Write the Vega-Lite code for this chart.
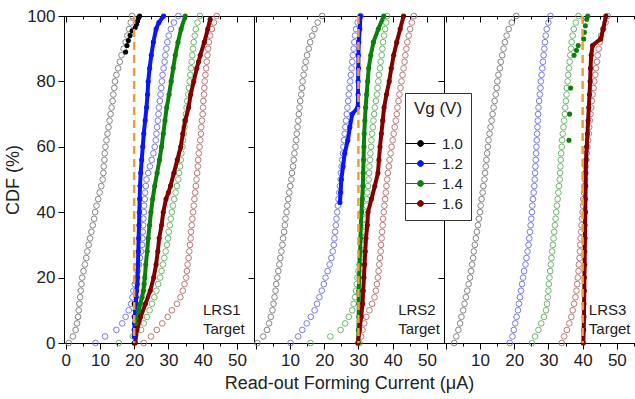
{
"$schema":"https://vega.github.io/schema/vega-lite/v6.json",
"autosize":{"type":"pad"},
"padding":{"left":4,"top":6,"right":0,"bottom":0},
"spacing":0,
"bounds":"flush",
"config":{
 "font":"Liberation Sans",
 "view":{"stroke":"black","strokeWidth":1},
 "axis":{"labelFont":"Liberation Sans","labelFontSize":17,"labelColor":"#222","titleFont":"Liberation Sans","titleFontSize":18,"titleFontWeight":"normal","titleColor":"#222","domainColor":"black","tickColor":"black","grid":false,"labelOverlap":false,"labelBound":false,"labelFlush":false},
 "legend":{"strokeColor":"#333","fillColor":"white","padding":8,"labelFontSize":15,"labelFont":"Liberation Sans","titleFont":"Liberation Sans","titleFontSize":17,"titleFontWeight":"normal","titleColor":"#222","labelColor":"#222","labelOffset":14,"rowPadding":4,"symbolSize":144,"titleAnchor":"middle","titlePadding":18}
},
"datasets":{
"h1":[
{"s":"ko","x":0.9,"y":0},{"s":"ko","x":2.1,"y":2},{"s":"ko","x":2.9,"y":4},{"s":"ko","x":3.3,"y":6},{"s":"ko","x":3.6,"y":8},{"s":"ko","x":3.8,"y":10},{"s":"ko","x":4.0,"y":12},{"s":"ko","x":4.2,"y":14},{"s":"ko","x":4.4,"y":16},{"s":"ko","x":4.6,"y":18},{"s":"ko","x":4.8,"y":20},{"s":"ko","x":5.2,"y":22},{"s":"ko","x":5.6,"y":24},{"s":"ko","x":6.0,"y":26},{"s":"ko","x":6.3,"y":28},{"s":"ko","x":6.7,"y":30},{"s":"ko","x":7.1,"y":32},{"s":"ko","x":7.5,"y":34},{"s":"ko","x":7.9,"y":36},{"s":"ko","x":8.3,"y":38},{"s":"ko","x":8.6,"y":40},{"s":"ko","x":9.0,"y":42},{"s":"ko","x":9.5,"y":44},{"s":"ko","x":9.9,"y":46},{"s":"ko","x":10.4,"y":48},{"s":"ko","x":10.8,"y":50},{"s":"ko","x":11.0,"y":52},{"s":"ko","x":11.1,"y":54},{"s":"ko","x":11.3,"y":56},{"s":"ko","x":11.4,"y":58},{"s":"ko","x":11.6,"y":60},{"s":"ko","x":11.9,"y":62},{"s":"ko","x":12.2,"y":64},{"s":"ko","x":12.5,"y":66},{"s":"ko","x":12.8,"y":68},{"s":"ko","x":13.1,"y":70},{"s":"ko","x":13.4,"y":72},{"s":"ko","x":13.7,"y":74},{"s":"ko","x":13.9,"y":76},{"s":"ko","x":14.2,"y":78},{"s":"ko","x":14.4,"y":80},{"s":"ko","x":14.8,"y":82},{"s":"ko","x":15.3,"y":84},{"s":"ko","x":15.8,"y":86},{"s":"ko","x":16.3,"y":88},{"s":"ko","x":16.9,"y":90},{"s":"ko","x":17.5,"y":92},{"s":"ko","x":18.0,"y":94},{"s":"ko","x":18.5,"y":96},{"s":"ko","x":19.0,"y":98},{"s":"ko","x":19.4,"y":100},
{"s":"bo","x":8.7,"y":0},{"s":"bo","x":11.5,"y":2},{"s":"bo","x":14.8,"y":4},{"s":"bo","x":16.5,"y":6},{"s":"bo","x":17.5,"y":8},{"s":"bo","x":18.4,"y":10},{"s":"bo","x":19.1,"y":12},{"s":"bo","x":19.5,"y":14},{"s":"bo","x":19.8,"y":16},{"s":"bo","x":20.2,"y":18},{"s":"bo","x":20.6,"y":20},{"s":"bo","x":21.0,"y":22},{"s":"bo","x":21.4,"y":24},{"s":"bo","x":21.7,"y":26},{"s":"bo","x":22.0,"y":28},{"s":"bo","x":22.3,"y":30},{"s":"bo","x":22.4,"y":32},{"s":"bo","x":22.5,"y":34},{"s":"bo","x":22.6,"y":36},{"s":"bo","x":22.7,"y":38},{"s":"bo","x":22.8,"y":40},{"s":"bo","x":22.9,"y":42},{"s":"bo","x":23.1,"y":44},{"s":"bo","x":23.2,"y":46},{"s":"bo","x":23.4,"y":48},{"s":"bo","x":23.6,"y":50},{"s":"bo","x":24.1,"y":52},{"s":"bo","x":24.6,"y":54},{"s":"bo","x":25.1,"y":56},{"s":"bo","x":25.6,"y":58},{"s":"bo","x":26.0,"y":60},{"s":"bo","x":26.3,"y":62},{"s":"bo","x":26.5,"y":64},{"s":"bo","x":26.7,"y":66},{"s":"bo","x":26.9,"y":68},{"s":"bo","x":27.1,"y":70},{"s":"bo","x":27.2,"y":72},{"s":"bo","x":27.5,"y":74},{"s":"bo","x":27.7,"y":76},{"s":"bo","x":27.9,"y":78},{"s":"bo","x":28.1,"y":80},{"s":"bo","x":28.3,"y":82},{"s":"bo","x":28.6,"y":84},{"s":"bo","x":28.9,"y":86},{"s":"bo","x":29.1,"y":88},{"s":"bo","x":29.4,"y":90},{"s":"bo","x":29.7,"y":92},{"s":"bo","x":30.1,"y":94},{"s":"bo","x":30.7,"y":96},{"s":"bo","x":31.6,"y":98},{"s":"bo","x":32.9,"y":100},
{"s":"go","x":15.5,"y":0},{"s":"go","x":19.6,"y":2},{"s":"go","x":22.0,"y":4},{"s":"go","x":22.8,"y":6},{"s":"go","x":23.7,"y":8},{"s":"go","x":24.5,"y":10},{"s":"go","x":25.2,"y":12},{"s":"go","x":25.9,"y":14},{"s":"go","x":26.5,"y":16},{"s":"go","x":27.0,"y":18},{"s":"go","x":27.6,"y":20},{"s":"go","x":28.0,"y":22},{"s":"go","x":28.4,"y":24},{"s":"go","x":28.8,"y":26},{"s":"go","x":29.2,"y":28},{"s":"go","x":29.6,"y":30},{"s":"go","x":29.9,"y":32},{"s":"go","x":30.1,"y":34},{"s":"go","x":30.4,"y":36},{"s":"go","x":30.7,"y":38},{"s":"go","x":31.0,"y":40},{"s":"go","x":31.3,"y":42},{"s":"go","x":31.7,"y":44},{"s":"go","x":32.1,"y":46},{"s":"go","x":32.5,"y":48},{"s":"go","x":32.9,"y":50},{"s":"go","x":33.1,"y":52},{"s":"go","x":33.4,"y":54},{"s":"go","x":33.6,"y":56},{"s":"go","x":33.8,"y":58},{"s":"go","x":34.1,"y":60},{"s":"go","x":34.3,"y":62},{"s":"go","x":34.5,"y":64},{"s":"go","x":34.7,"y":66},{"s":"go","x":34.9,"y":68},{"s":"go","x":35.1,"y":70},{"s":"go","x":35.3,"y":72},{"s":"go","x":35.5,"y":74},{"s":"go","x":35.8,"y":76},{"s":"go","x":36.0,"y":78},{"s":"go","x":36.2,"y":80},{"s":"go","x":36.4,"y":82},{"s":"go","x":36.6,"y":84},{"s":"go","x":36.8,"y":86},{"s":"go","x":37.0,"y":88},{"s":"go","x":37.2,"y":90},{"s":"go","x":37.4,"y":92},{"s":"go","x":37.7,"y":94},{"s":"go","x":38.0,"y":96},{"s":"go","x":38.5,"y":98},{"s":"go","x":39.2,"y":100},
{"s":"ro","x":22.8,"y":0},{"s":"ro","x":24.9,"y":2},{"s":"ro","x":26.6,"y":4},{"s":"ro","x":28.2,"y":6},{"s":"ro","x":29.8,"y":8},{"s":"ro","x":31.0,"y":10},{"s":"ro","x":32.5,"y":12},{"s":"ro","x":33.5,"y":14},{"s":"ro","x":34.2,"y":16},{"s":"ro","x":34.7,"y":18},{"s":"ro","x":35.2,"y":20},{"s":"ro","x":35.4,"y":22},{"s":"ro","x":35.6,"y":24},{"s":"ro","x":35.9,"y":26},{"s":"ro","x":36.1,"y":28},{"s":"ro","x":36.3,"y":30},{"s":"ro","x":36.5,"y":32},{"s":"ro","x":36.6,"y":34},{"s":"ro","x":36.8,"y":36},{"s":"ro","x":37.0,"y":38},{"s":"ro","x":37.2,"y":40},{"s":"ro","x":37.4,"y":42},{"s":"ro","x":37.6,"y":44},{"s":"ro","x":37.8,"y":46},{"s":"ro","x":38.0,"y":48},{"s":"ro","x":38.2,"y":50},{"s":"ro","x":38.4,"y":52},{"s":"ro","x":38.6,"y":54},{"s":"ro","x":38.7,"y":56},{"s":"ro","x":38.9,"y":58},{"s":"ro","x":39.1,"y":60},{"s":"ro","x":39.3,"y":62},{"s":"ro","x":39.5,"y":64},{"s":"ro","x":39.6,"y":66},{"s":"ro","x":39.8,"y":68},{"s":"ro","x":40.0,"y":70},{"s":"ro","x":40.1,"y":72},{"s":"ro","x":40.2,"y":74},{"s":"ro","x":40.4,"y":76},{"s":"ro","x":40.5,"y":78},{"s":"ro","x":40.6,"y":80},{"s":"ro","x":40.8,"y":82},{"s":"ro","x":41.0,"y":84},{"s":"ro","x":41.2,"y":86},{"s":"ro","x":41.4,"y":88},{"s":"ro","x":41.6,"y":90},{"s":"ro","x":41.8,"y":92},{"s":"ro","x":42.2,"y":94},{"s":"ro","x":42.7,"y":96},{"s":"ro","x":43.3,"y":98},{"s":"ro","x":44.1,"y":100}
],
"h2":[
{"s":"ko","x":0.5,"y":0},{"s":"ko","x":2.2,"y":2},{"s":"ko","x":3.3,"y":4},{"s":"ko","x":3.9,"y":6},{"s":"ko","x":4.4,"y":8},{"s":"ko","x":4.9,"y":10},{"s":"ko","x":5.2,"y":12},{"s":"ko","x":5.5,"y":14},{"s":"ko","x":5.8,"y":16},{"s":"ko","x":6.0,"y":18},{"s":"ko","x":6.3,"y":20},{"s":"ko","x":6.6,"y":22},{"s":"ko","x":6.9,"y":24},{"s":"ko","x":7.2,"y":26},{"s":"ko","x":7.5,"y":28},{"s":"ko","x":7.8,"y":30},{"s":"ko","x":8.0,"y":32},{"s":"ko","x":8.3,"y":34},{"s":"ko","x":8.5,"y":36},{"s":"ko","x":8.7,"y":38},{"s":"ko","x":9.0,"y":40},{"s":"ko","x":9.2,"y":42},{"s":"ko","x":9.5,"y":44},{"s":"ko","x":9.8,"y":46},{"s":"ko","x":10.1,"y":48},{"s":"ko","x":10.4,"y":50},{"s":"ko","x":10.6,"y":52},{"s":"ko","x":10.9,"y":54},{"s":"ko","x":11.1,"y":56},{"s":"ko","x":11.3,"y":58},{"s":"ko","x":11.6,"y":60},{"s":"ko","x":11.8,"y":62},{"s":"ko","x":12.0,"y":64},{"s":"ko","x":12.2,"y":66},{"s":"ko","x":12.4,"y":68},{"s":"ko","x":12.6,"y":70},{"s":"ko","x":12.8,"y":72},{"s":"ko","x":13.0,"y":74},{"s":"ko","x":13.3,"y":76},{"s":"ko","x":13.5,"y":78},{"s":"ko","x":13.7,"y":80},{"s":"ko","x":14.0,"y":82},{"s":"ko","x":14.3,"y":84},{"s":"ko","x":14.6,"y":86},{"s":"ko","x":15.0,"y":88},{"s":"ko","x":15.5,"y":90},{"s":"ko","x":15.9,"y":92},{"s":"ko","x":16.5,"y":94},{"s":"ko","x":17.2,"y":96},{"s":"ko","x":18.1,"y":98},{"s":"ko","x":19.4,"y":100},
{"s":"bo","x":10.2,"y":0},{"s":"bo","x":12.4,"y":2},{"s":"bo","x":13.6,"y":4},{"s":"bo","x":14.9,"y":6},{"s":"bo","x":16.1,"y":8},{"s":"bo","x":17.2,"y":10},{"s":"bo","x":17.9,"y":12},{"s":"bo","x":18.6,"y":14},{"s":"bo","x":19.3,"y":16},{"s":"bo","x":19.9,"y":18},{"s":"bo","x":20.4,"y":20},{"s":"bo","x":21.0,"y":22},{"s":"bo","x":21.6,"y":24},{"s":"bo","x":22.1,"y":26},{"s":"bo","x":22.5,"y":28},{"s":"bo","x":22.8,"y":30},{"s":"bo","x":23.0,"y":32},{"s":"bo","x":23.2,"y":34},{"s":"bo","x":23.4,"y":36},{"s":"bo","x":23.6,"y":38},{"s":"bo","x":23.8,"y":40},{"s":"bo","x":24.0,"y":42},{"s":"bo","x":24.2,"y":44},{"s":"bo","x":24.4,"y":46},{"s":"bo","x":24.6,"y":48},{"s":"bo","x":24.8,"y":50},{"s":"bo","x":24.9,"y":52},{"s":"bo","x":25.1,"y":54},{"s":"bo","x":25.3,"y":56},{"s":"bo","x":25.5,"y":58},{"s":"bo","x":25.6,"y":60},{"s":"bo","x":25.8,"y":62},{"s":"bo","x":26.0,"y":64},{"s":"bo","x":26.2,"y":66},{"s":"bo","x":26.4,"y":68},{"s":"bo","x":26.6,"y":70},{"s":"bo","x":26.8,"y":72},{"s":"bo","x":27.0,"y":74},{"s":"bo","x":27.2,"y":76},{"s":"bo","x":27.4,"y":78},{"s":"bo","x":27.6,"y":80},{"s":"bo","x":27.8,"y":82},{"s":"bo","x":28.0,"y":84},{"s":"bo","x":28.2,"y":86},{"s":"bo","x":28.4,"y":88},{"s":"bo","x":28.6,"y":90},{"s":"bo","x":28.8,"y":92},{"s":"bo","x":29.0,"y":94},{"s":"bo","x":29.3,"y":96},{"s":"bo","x":29.8,"y":98},{"s":"bo","x":30.6,"y":100},
{"s":"go","x":16.0,"y":0},{"s":"go","x":21.8,"y":2},{"s":"go","x":24.8,"y":4},{"s":"go","x":26.1,"y":6},{"s":"go","x":27.2,"y":8},{"s":"go","x":28.2,"y":10},{"s":"go","x":28.6,"y":12},{"s":"go","x":29.0,"y":14},{"s":"go","x":29.3,"y":16},{"s":"go","x":29.5,"y":18},{"s":"go","x":29.7,"y":20},{"s":"go","x":30.0,"y":22},{"s":"go","x":30.3,"y":24},{"s":"go","x":30.6,"y":26},{"s":"go","x":30.9,"y":28},{"s":"go","x":31.1,"y":30},{"s":"go","x":31.3,"y":32},{"s":"go","x":31.5,"y":34},{"s":"go","x":31.7,"y":36},{"s":"go","x":31.9,"y":38},{"s":"go","x":32.1,"y":40},{"s":"go","x":32.3,"y":42},{"s":"go","x":32.4,"y":44},{"s":"go","x":32.6,"y":46},{"s":"go","x":32.8,"y":48},{"s":"go","x":33.0,"y":50},{"s":"go","x":33.1,"y":52},{"s":"go","x":33.2,"y":54},{"s":"go","x":33.4,"y":56},{"s":"go","x":33.5,"y":58},{"s":"go","x":33.7,"y":60},{"s":"go","x":33.8,"y":62},{"s":"go","x":34.0,"y":64},{"s":"go","x":34.2,"y":66},{"s":"go","x":34.4,"y":68},{"s":"go","x":34.6,"y":70},{"s":"go","x":34.8,"y":72},{"s":"go","x":35.1,"y":74},{"s":"go","x":35.4,"y":76},{"s":"go","x":35.6,"y":78},{"s":"go","x":35.8,"y":80},{"s":"go","x":36.0,"y":82},{"s":"go","x":36.3,"y":84},{"s":"go","x":36.5,"y":86},{"s":"go","x":36.8,"y":88},{"s":"go","x":37.0,"y":90},{"s":"go","x":37.2,"y":92},{"s":"go","x":37.5,"y":94},{"s":"go","x":37.8,"y":96},{"s":"go","x":38.1,"y":98},{"s":"go","x":38.4,"y":100},
{"s":"ro","x":30.3,"y":0},{"s":"ro","x":30.8,"y":2},{"s":"ro","x":31.2,"y":4},{"s":"ro","x":31.7,"y":6},{"s":"ro","x":32.3,"y":8},{"s":"ro","x":33.2,"y":10},{"s":"ro","x":34.0,"y":12},{"s":"ro","x":34.7,"y":14},{"s":"ro","x":35.1,"y":16},{"s":"ro","x":35.4,"y":18},{"s":"ro","x":35.7,"y":20},{"s":"ro","x":35.9,"y":22},{"s":"ro","x":36.1,"y":24},{"s":"ro","x":36.3,"y":26},{"s":"ro","x":36.5,"y":28},{"s":"ro","x":36.6,"y":30},{"s":"ro","x":36.8,"y":32},{"s":"ro","x":36.9,"y":34},{"s":"ro","x":37.1,"y":36},{"s":"ro","x":37.2,"y":38},{"s":"ro","x":37.4,"y":40},{"s":"ro","x":37.6,"y":42},{"s":"ro","x":37.8,"y":44},{"s":"ro","x":38.0,"y":46},{"s":"ro","x":38.2,"y":48},{"s":"ro","x":38.4,"y":50},{"s":"ro","x":38.6,"y":52},{"s":"ro","x":38.9,"y":54},{"s":"ro","x":39.1,"y":56},{"s":"ro","x":39.4,"y":58},{"s":"ro","x":39.7,"y":60},{"s":"ro","x":40.0,"y":62},{"s":"ro","x":40.3,"y":64},{"s":"ro","x":40.6,"y":66},{"s":"ro","x":40.9,"y":68},{"s":"ro","x":41.2,"y":70},{"s":"ro","x":41.4,"y":72},{"s":"ro","x":41.7,"y":74},{"s":"ro","x":42.0,"y":76},{"s":"ro","x":42.3,"y":78},{"s":"ro","x":42.6,"y":80},{"s":"ro","x":42.9,"y":82},{"s":"ro","x":43.2,"y":84},{"s":"ro","x":43.5,"y":86},{"s":"ro","x":43.7,"y":88},{"s":"ro","x":44.0,"y":90},{"s":"ro","x":44.3,"y":92},{"s":"ro","x":44.7,"y":94},{"s":"ro","x":45.1,"y":96},{"s":"ro","x":45.6,"y":98},{"s":"ro","x":46.2,"y":100}
],
"h3":[
{"s":"ko","x":2.5,"y":0},{"s":"ko","x":3.1,"y":2},{"s":"ko","x":3.7,"y":4},{"s":"ko","x":4.2,"y":6},{"s":"ko","x":4.6,"y":8},{"s":"ko","x":5.1,"y":10},{"s":"ko","x":5.5,"y":12},{"s":"ko","x":5.9,"y":14},{"s":"ko","x":6.3,"y":16},{"s":"ko","x":6.7,"y":18},{"s":"ko","x":7.1,"y":20},{"s":"ko","x":7.4,"y":22},{"s":"ko","x":7.7,"y":24},{"s":"ko","x":8.0,"y":26},{"s":"ko","x":8.2,"y":28},{"s":"ko","x":8.5,"y":30},{"s":"ko","x":8.8,"y":32},{"s":"ko","x":9.1,"y":34},{"s":"ko","x":9.4,"y":36},{"s":"ko","x":9.7,"y":38},{"s":"ko","x":10.0,"y":40},{"s":"ko","x":10.2,"y":42},{"s":"ko","x":10.5,"y":44},{"s":"ko","x":10.8,"y":46},{"s":"ko","x":11.0,"y":48},{"s":"ko","x":11.3,"y":50},{"s":"ko","x":11.5,"y":52},{"s":"ko","x":11.7,"y":54},{"s":"ko","x":11.9,"y":56},{"s":"ko","x":12.1,"y":58},{"s":"ko","x":12.3,"y":60},{"s":"ko","x":12.5,"y":62},{"s":"ko","x":12.8,"y":64},{"s":"ko","x":13.1,"y":66},{"s":"ko","x":13.4,"y":68},{"s":"ko","x":13.7,"y":70},{"s":"ko","x":14.0,"y":72},{"s":"ko","x":14.3,"y":74},{"s":"ko","x":14.6,"y":76},{"s":"ko","x":14.9,"y":78},{"s":"ko","x":15.1,"y":80},{"s":"ko","x":15.4,"y":82},{"s":"ko","x":15.8,"y":84},{"s":"ko","x":16.1,"y":86},{"s":"ko","x":16.5,"y":88},{"s":"ko","x":16.9,"y":90},{"s":"ko","x":17.3,"y":92},{"s":"ko","x":17.8,"y":94},{"s":"ko","x":18.4,"y":96},{"s":"ko","x":19.3,"y":98},{"s":"ko","x":20.6,"y":100},
{"s":"bo","x":18.7,"y":0},{"s":"bo","x":19.5,"y":2},{"s":"bo","x":19.9,"y":4},{"s":"bo","x":20.3,"y":6},{"s":"bo","x":20.7,"y":8},{"s":"bo","x":21.1,"y":10},{"s":"bo","x":21.4,"y":12},{"s":"bo","x":21.7,"y":14},{"s":"bo","x":22.0,"y":16},{"s":"bo","x":22.3,"y":18},{"s":"bo","x":22.6,"y":20},{"s":"bo","x":22.9,"y":22},{"s":"bo","x":23.3,"y":24},{"s":"bo","x":23.6,"y":26},{"s":"bo","x":23.9,"y":28},{"s":"bo","x":24.2,"y":30},{"s":"bo","x":24.4,"y":32},{"s":"bo","x":24.6,"y":34},{"s":"bo","x":24.8,"y":36},{"s":"bo","x":25.0,"y":38},{"s":"bo","x":25.2,"y":40},{"s":"bo","x":25.3,"y":42},{"s":"bo","x":25.5,"y":44},{"s":"bo","x":25.7,"y":46},{"s":"bo","x":25.9,"y":48},{"s":"bo","x":26.0,"y":50},{"s":"bo","x":26.1,"y":52},{"s":"bo","x":26.2,"y":54},{"s":"bo","x":26.3,"y":56},{"s":"bo","x":26.4,"y":58},{"s":"bo","x":26.5,"y":60},{"s":"bo","x":26.6,"y":62},{"s":"bo","x":26.7,"y":64},{"s":"bo","x":26.8,"y":66},{"s":"bo","x":26.9,"y":68},{"s":"bo","x":27.0,"y":70},{"s":"bo","x":27.1,"y":72},{"s":"bo","x":27.3,"y":74},{"s":"bo","x":27.5,"y":76},{"s":"bo","x":27.7,"y":78},{"s":"bo","x":27.8,"y":80},{"s":"bo","x":28.0,"y":82},{"s":"bo","x":28.2,"y":84},{"s":"bo","x":28.4,"y":86},{"s":"bo","x":28.6,"y":88},{"s":"bo","x":28.8,"y":90},{"s":"bo","x":29.0,"y":92},{"s":"bo","x":29.2,"y":94},{"s":"bo","x":29.5,"y":96},{"s":"bo","x":30.0,"y":98},{"s":"bo","x":30.6,"y":100},
{"s":"go","x":25.2,"y":0},{"s":"go","x":26.1,"y":2},{"s":"go","x":27.1,"y":4},{"s":"go","x":27.9,"y":6},{"s":"go","x":28.7,"y":8},{"s":"go","x":29.3,"y":10},{"s":"go","x":29.6,"y":12},{"s":"go","x":29.8,"y":14},{"s":"go","x":30.0,"y":16},{"s":"go","x":30.1,"y":18},{"s":"go","x":30.3,"y":20},{"s":"go","x":30.5,"y":22},{"s":"go","x":30.7,"y":24},{"s":"go","x":30.9,"y":26},{"s":"go","x":31.1,"y":28},{"s":"go","x":31.3,"y":30},{"s":"go","x":31.5,"y":32},{"s":"go","x":31.7,"y":34},{"s":"go","x":31.9,"y":36},{"s":"go","x":32.1,"y":38},{"s":"go","x":32.3,"y":40},{"s":"go","x":32.5,"y":42},{"s":"go","x":32.7,"y":44},{"s":"go","x":32.9,"y":46},{"s":"go","x":33.1,"y":48},{"s":"go","x":33.3,"y":50},{"s":"go","x":33.4,"y":52},{"s":"go","x":33.5,"y":54},{"s":"go","x":33.6,"y":56},{"s":"go","x":33.7,"y":58},{"s":"go","x":33.9,"y":60},{"s":"go","x":34.0,"y":62},{"s":"go","x":34.2,"y":64},{"s":"go","x":34.4,"y":66},{"s":"go","x":34.6,"y":68},{"s":"go","x":34.8,"y":70},{"s":"go","x":34.9,"y":72},{"s":"go","x":35.1,"y":74},{"s":"go","x":35.3,"y":76},{"s":"go","x":35.4,"y":78},{"s":"go","x":35.6,"y":80},{"s":"go","x":35.8,"y":82},{"s":"go","x":36.0,"y":84},{"s":"go","x":36.2,"y":86},{"s":"go","x":36.4,"y":88},{"s":"go","x":36.6,"y":90},{"s":"go","x":36.8,"y":92},{"s":"go","x":37.1,"y":94},{"s":"go","x":37.4,"y":96},{"s":"go","x":38.0,"y":98},{"s":"go","x":38.8,"y":100},
{"s":"ro","x":33.9,"y":0},{"s":"ro","x":34.6,"y":2},{"s":"ro","x":35.4,"y":4},{"s":"ro","x":36.1,"y":6},{"s":"ro","x":36.7,"y":8},{"s":"ro","x":37.1,"y":10},{"s":"ro","x":37.5,"y":12},{"s":"ro","x":37.9,"y":14},{"s":"ro","x":38.2,"y":16},{"s":"ro","x":38.4,"y":18},{"s":"ro","x":38.6,"y":20},{"s":"ro","x":38.8,"y":22},{"s":"ro","x":38.9,"y":24},{"s":"ro","x":39.1,"y":26},{"s":"ro","x":39.2,"y":28},{"s":"ro","x":39.3,"y":30},{"s":"ro","x":39.4,"y":32},{"s":"ro","x":39.6,"y":34},{"s":"ro","x":39.7,"y":36},{"s":"ro","x":39.8,"y":38},{"s":"ro","x":40.0,"y":40},{"s":"ro","x":40.1,"y":42},{"s":"ro","x":40.2,"y":44},{"s":"ro","x":40.4,"y":46},{"s":"ro","x":40.5,"y":48},{"s":"ro","x":40.7,"y":50},{"s":"ro","x":40.8,"y":52},{"s":"ro","x":40.9,"y":54},{"s":"ro","x":41.1,"y":56},{"s":"ro","x":41.2,"y":58},{"s":"ro","x":41.4,"y":60},{"s":"ro","x":41.6,"y":62},{"s":"ro","x":41.8,"y":64},{"s":"ro","x":41.9,"y":66},{"s":"ro","x":42.1,"y":68},{"s":"ro","x":42.3,"y":70},{"s":"ro","x":42.5,"y":72},{"s":"ro","x":42.7,"y":74},{"s":"ro","x":42.9,"y":76},{"s":"ro","x":43.2,"y":78},{"s":"ro","x":43.4,"y":80},{"s":"ro","x":43.7,"y":82},{"s":"ro","x":43.9,"y":84},{"s":"ro","x":44.2,"y":86},{"s":"ro","x":44.4,"y":88},{"s":"ro","x":44.7,"y":90},{"s":"ro","x":45.0,"y":92},{"s":"ro","x":45.4,"y":94},{"s":"ro","x":46.0,"y":96},{"s":"ro","x":46.7,"y":98},{"s":"ro","x":47.3,"y":100}
],
"f1":[
{"s":"k","x":20.0,"y":0},{"s":"k","x":20.0,"y":4},{"s":"k","x":20.0,"y":8},{"s":"k","x":20.0,"y":12},{"s":"k","x":17.5,"y":89},{"s":"k","x":17.9,"y":91},{"s":"k","x":18.3,"y":92.5},{"s":"k","x":18.8,"y":94},{"s":"k","x":19.4,"y":95.5},{"s":"k","x":20.3,"y":96.5},{"s":"k","x":20.7,"y":97.5},{"s":"k","x":21.0,"y":98.5},{"s":"k","x":21.3,"y":99.5},{"s":"k","x":21.6,"y":100},
{"s":"b","x":20.0,"y":2},{"s":"b","x":20.1,"y":4},{"s":"b","x":20.1,"y":6},{"s":"b","x":20.2,"y":8},{"s":"b","x":20.3,"y":10},{"s":"b","x":20.5,"y":12},{"s":"b","x":20.6,"y":14},{"s":"b","x":20.7,"y":16},{"s":"b","x":20.9,"y":18},{"s":"b","x":21.0,"y":20},{"s":"b","x":21.1,"y":24},{"s":"b","x":21.2,"y":28},{"s":"b","x":21.3,"y":32},{"s":"b","x":21.4,"y":36},{"s":"b","x":21.5,"y":40},{"s":"b","x":21.6,"y":44},{"s":"b","x":21.7,"y":48},{"s":"b","x":21.9,"y":52},{"s":"b","x":22.2,"y":56},{"s":"b","x":22.5,"y":60},{"s":"b","x":22.8,"y":64},{"s":"b","x":23.2,"y":68},{"s":"b","x":23.6,"y":72},{"s":"b","x":23.9,"y":76},{"s":"b","x":24.1,"y":80},{"s":"b","x":24.5,"y":84},{"s":"b","x":25.0,"y":88},{"s":"b","x":25.6,"y":92},{"s":"b","x":26.4,"y":96},{"s":"b","x":27.2,"y":98},{"s":"b","x":28.6,"y":100},
{"s":"g","x":20.5,"y":6},{"s":"g","x":20.9,"y":8},{"s":"g","x":21.3,"y":10},{"s":"g","x":21.8,"y":12},{"s":"g","x":22.3,"y":14},{"s":"g","x":22.7,"y":16},{"s":"g","x":22.9,"y":18},{"s":"g","x":23.1,"y":20},{"s":"g","x":23.4,"y":24},{"s":"g","x":23.8,"y":28},{"s":"g","x":24.1,"y":32},{"s":"g","x":24.5,"y":36},{"s":"g","x":24.9,"y":40},{"s":"g","x":25.4,"y":44},{"s":"g","x":26.0,"y":48},{"s":"g","x":26.7,"y":52},{"s":"g","x":27.4,"y":56},{"s":"g","x":28.0,"y":60},{"s":"g","x":28.5,"y":64},{"s":"g","x":29.0,"y":68},{"s":"g","x":29.5,"y":72},{"s":"g","x":30.2,"y":76},{"s":"g","x":30.8,"y":80},{"s":"g","x":31.4,"y":84},{"s":"g","x":32.0,"y":88},{"s":"g","x":32.8,"y":92},{"s":"g","x":33.7,"y":96},{"s":"g","x":34.9,"y":100},
{"s":"r","x":20.3,"y":0},{"s":"r","x":20.8,"y":4},{"s":"r","x":21.9,"y":8},{"s":"r","x":23.3,"y":12},{"s":"r","x":24.7,"y":16},{"s":"r","x":25.7,"y":20},{"s":"r","x":26.4,"y":24},{"s":"r","x":26.9,"y":28},{"s":"r","x":27.3,"y":32},{"s":"r","x":28.0,"y":36},{"s":"r","x":28.5,"y":40},{"s":"r","x":29.3,"y":44},{"s":"r","x":30.0,"y":46},{"s":"r","x":30.6,"y":48},{"s":"r","x":31.6,"y":52},{"s":"r","x":32.6,"y":56},{"s":"r","x":33.6,"y":60},{"s":"r","x":34.2,"y":64},{"s":"r","x":34.9,"y":68},{"s":"r","x":35.9,"y":72},{"s":"r","x":36.5,"y":76},{"s":"r","x":37.4,"y":80},{"s":"r","x":38.3,"y":84},{"s":"r","x":38.8,"y":86},{"s":"r","x":39.3,"y":88},{"s":"r","x":40.5,"y":92},{"s":"r","x":41.5,"y":96},{"s":"r","x":42.2,"y":99}
],
"f2":[
{"s":"b","x":24.6,"y":43},{"s":"b","x":24.8,"y":46},{"s":"b","x":25.0,"y":50},{"s":"b","x":25.5,"y":54},{"s":"b","x":26.0,"y":58},{"s":"b","x":26.9,"y":62},{"s":"b","x":27.5,"y":66},{"s":"b","x":28.2,"y":70},{"s":"b","x":29.8,"y":72},{"s":"b","x":29.9,"y":76},{"s":"b","x":29.9,"y":80},{"s":"b","x":30.0,"y":84},{"s":"b","x":30.0,"y":88},{"s":"b","x":30.1,"y":92},{"s":"b","x":30.4,"y":96},{"s":"b","x":30.6,"y":100},
{"s":"g","x":30.0,"y":0},{"s":"g","x":30.0,"y":4},{"s":"g","x":30.1,"y":8},{"s":"g","x":30.1,"y":12},{"s":"g","x":30.1,"y":16},{"s":"g","x":30.2,"y":20},{"s":"g","x":30.3,"y":24},{"s":"g","x":30.5,"y":28},{"s":"g","x":30.6,"y":32},{"s":"g","x":30.7,"y":36},{"s":"g","x":30.9,"y":40},{"s":"g","x":31.1,"y":44},{"s":"g","x":31.3,"y":48},{"s":"g","x":31.4,"y":52},{"s":"g","x":31.5,"y":56},{"s":"g","x":31.6,"y":60},{"s":"g","x":31.7,"y":64},{"s":"g","x":31.9,"y":68},{"s":"g","x":32.1,"y":72},{"s":"g","x":32.4,"y":76},{"s":"g","x":32.7,"y":80},{"s":"g","x":33.0,"y":84},{"s":"g","x":33.6,"y":88},{"s":"g","x":34.4,"y":92},{"s":"g","x":35.8,"y":96},{"s":"g","x":37.4,"y":100},
{"s":"r","x":29.8,"y":0},{"s":"r","x":30.3,"y":4},{"s":"r","x":30.8,"y":8},{"s":"r","x":31.2,"y":12},{"s":"r","x":31.4,"y":16},{"s":"r","x":31.6,"y":20},{"s":"r","x":31.8,"y":24},{"s":"r","x":32.0,"y":28},{"s":"r","x":32.2,"y":32},{"s":"r","x":32.6,"y":36},{"s":"r","x":32.8,"y":40},{"s":"r","x":33.8,"y":44},{"s":"r","x":34.8,"y":48},{"s":"r","x":35.7,"y":52},{"s":"r","x":36.0,"y":56},{"s":"r","x":36.3,"y":60},{"s":"r","x":36.7,"y":64},{"s":"r","x":37.1,"y":68},{"s":"r","x":37.5,"y":72},{"s":"r","x":38.2,"y":76},{"s":"r","x":39.0,"y":80},{"s":"r","x":39.6,"y":84},{"s":"r","x":40.3,"y":88},{"s":"r","x":41.2,"y":92},{"s":"r","x":42.2,"y":96},{"s":"r","x":43.2,"y":100}
],
"f3":[
{"s":"g","x":36.0,"y":62},{"s":"g","x":36.2,"y":70},{"s":"g","x":36.5,"y":78},{"s":"g","x":37.5,"y":88},{"s":"g","x":38.2,"y":89.5},{"s":"g","x":38.7,"y":91},{"s":"g","x":40.3,"y":93},{"s":"g","x":40.5,"y":95},{"s":"g","x":40.8,"y":97},{"s":"g","x":41.2,"y":99},{"s":"g","x":41.5,"y":100},
{"s":"r","x":40.2,"y":0},{"s":"r","x":40.3,"y":4},{"s":"r","x":40.4,"y":8},{"s":"r","x":40.4,"y":12},{"s":"r","x":40.5,"y":16},{"s":"r","x":40.5,"y":20},{"s":"r","x":40.6,"y":24},{"s":"r","x":40.6,"y":28},{"s":"r","x":40.7,"y":32},{"s":"r","x":40.7,"y":36},{"s":"r","x":40.8,"y":40},{"s":"r","x":40.8,"y":44},{"s":"r","x":40.9,"y":48},{"s":"r","x":40.9,"y":52},{"s":"r","x":41.0,"y":56},{"s":"r","x":41.2,"y":60},{"s":"r","x":41.4,"y":64},{"s":"r","x":41.6,"y":68},{"s":"r","x":41.8,"y":72},{"s":"r","x":42.0,"y":76},{"s":"r","x":42.2,"y":80},{"s":"r","x":42.3,"y":84},{"s":"r","x":42.5,"y":88},{"s":"r","x":42.9,"y":91},{"s":"r","x":45.3,"y":93},{"s":"r","x":46.0,"y":96},{"s":"r","x":46.8,"y":100}
],
"t1":[{"x":20}],"t2":[{"x":30}],"t3":[{"x":40}],
"l1":[{"t":"LRS1","x":40.1,"y":10.1},{"t":"Target","x":40.1,"y":4.3}],
"l2":[{"t":"LRS2","x":41.6,"y":10.1},{"t":"Target","x":41.6,"y":4.3}],
"l3":[{"t":"LRS3","x":41.8,"y":10.1},{"t":"Target","x":41.8,"y":4.3}]
},
"hconcat":[
{"width":190,"height":327,"resolve":{"axis":{"x":"independent"}},
 "layer":[
  {"data":{"name":"h1"},"mark":{"type":"point","filled":false,"size":32,"strokeWidth":0.9,"opacity":1},
   "encoding":{
    "x":{"field":"x","type":"quantitative","scale":{"domain":[-0.5,55],"nice":false,"zero":false},"axis":{"orient":"bottom","values":[0,5,10,15,20,25,30,35,40,45,50],"labelExpr":"datum.value % 10 == 0 ? datum.label : ''","tickSize":{"condition":{"test":"datum.value % 10 == 0","value":6},"value":3},"title":null,"labelPadding":3}},
    "y":{"field":"y","type":"quantitative","scale":{"domain":[0,100],"nice":false,"zero":false},"axis":{"values":[0,10,20,30,40,50,60,70,80,90,100],"labelExpr":"datum.value % 20 == 0 ? datum.label : ''","tickSize":{"condition":{"test":"datum.value % 20 == 0","value":6},"value":3},"title":"CDF (%)","titlePadding":4,"labelPadding":3}},
    "color":{"field":"s","type":"nominal","scale":{"domain":["k","b","g","r","ko","bo","go","ro"],"range":["#000000","#0a14ff","#0a800a","#800000","#777777","#6b6be0","#5fae5f","#b06a6a"]},"legend":{"values":["k","b","g","r"],"title":"Vg (V)","orient":"none","legendX":341,"legendY":77,"labelExpr":"datum.value=='k'?'1.0':datum.value=='b'?'1.2':datum.value=='g'?'1.4':'1.6'","encode":{"symbols":{"update":{"fill":{"scale":"color","field":"value"},"stroke":{"scale":"color","field":"value"},"strokeWidth":{"value":1},"shape":{"value":"M-2.5,0H-0.5M0.5,0H2.5M0.5,0A0.5,0.5,0,1,1,-0.5,0A0.5,0.5,0,1,1,0.5,0Z"},"size":{"value":144}}}}}}}},
  {"data":{"name":"f1"},"transform":[{"filter":"datum.s != 'k'"}],"mark":{"type":"line","strokeWidth":4},
   "encoding":{"x":{"field":"x","type":"quantitative","scale":{"domain":[-0.5,55],"nice":false,"zero":false},"axis":null},"y":{"field":"y","type":"quantitative","scale":{"domain":[0,100],"nice":false,"zero":false}},"order":{"field":"y","type":"quantitative"},
    "color":{"field":"s","type":"nominal","scale":{"domain":["k","b","g","r","ko","bo","go","ro"],"range":["#000000","#0a14ff","#0a800a","#800000","#777777","#6b6be0","#5fae5f","#b06a6a"]},"legend":{"values":["k","b","g","r"],"title":"Vg (V)","orient":"none","legendX":341,"legendY":77,"labelExpr":"datum.value=='k'?'1.0':datum.value=='b'?'1.2':datum.value=='g'?'1.4':'1.6'","encode":{"symbols":{"update":{"fill":{"scale":"color","field":"value"},"stroke":{"scale":"color","field":"value"},"strokeWidth":{"value":1},"shape":{"value":"M-2.5,0H-0.5M0.5,0H2.5M0.5,0A0.5,0.5,0,1,1,-0.5,0A0.5,0.5,0,1,1,0.5,0Z"},"size":{"value":144}}}}}}}},
  {"data":{"name":"f1"},"mark":{"type":"point","filled":true,"size":26,"opacity":1},
   "encoding":{"x":{"field":"x","type":"quantitative","scale":{"domain":[-0.5,55],"nice":false,"zero":false},"axis":null},"y":{"field":"y","type":"quantitative","scale":{"domain":[0,100],"nice":false,"zero":false}},
    "color":{"field":"s","type":"nominal","scale":{"domain":["k","b","g","r","ko","bo","go","ro"],"range":["#000000","#0a14ff","#0a800a","#800000","#777777","#6b6be0","#5fae5f","#b06a6a"]},"legend":{"values":["k","b","g","r"],"title":"Vg (V)","orient":"none","legendX":341,"legendY":77,"labelExpr":"datum.value=='k'?'1.0':datum.value=='b'?'1.2':datum.value=='g'?'1.4':'1.6'","encode":{"symbols":{"update":{"fill":{"scale":"color","field":"value"},"stroke":{"scale":"color","field":"value"},"strokeWidth":{"value":1},"shape":{"value":"M-2.5,0H-0.5M0.5,0H2.5M0.5,0A0.5,0.5,0,1,1,-0.5,0A0.5,0.5,0,1,1,0.5,0Z"},"size":{"value":144}}}}}}}},
  {"data":{"name":"t1"},"mark":{"type":"rule","strokeDash":[8,5],"strokeWidth":2.5,"color":"#F0A030"},
   "encoding":{"x":{"field":"x","type":"quantitative","scale":{"domain":[-0.5,55],"nice":false,"zero":false},"axis":{"orient":"top","values":[0,5,10,15,20,25,30,35,40,45,50],"labels":false,"title":null,"tickSize":{"condition":{"test":"datum.value % 10 == 0","value":-6},"value":-3}}}}},
  {"data":{"name":"l1"},"mark":{"type":"text","align":"left","baseline":"middle","fontSize":15,"font":"Liberation Sans","color":"#222"},
   "encoding":{"x":{"field":"x","type":"quantitative","scale":{"domain":[-0.5,55],"nice":false,"zero":false},"axis":null},"y":{"field":"y","type":"quantitative","scale":{"domain":[0,100],"nice":false,"zero":false}},"text":{"field":"t"}}}
 ]},
{"width":190,"height":327,"resolve":{"axis":{"x":"independent"}},
 "layer":[
  {"data":{"name":"h2"},"mark":{"type":"point","filled":false,"size":32,"strokeWidth":0.9,"opacity":1},
   "encoding":{
    "x":{"field":"x","type":"quantitative","scale":{"domain":[-0.5,55],"nice":false,"zero":false},"axis":{"orient":"bottom","values":[0,5,10,15,20,25,30,35,40,45,50],"labelExpr":"datum.value % 10 == 0 && datum.value > 0 ? datum.label : ''","tickSize":{"condition":{"test":"datum.value % 10 == 0","value":6},"value":3},"title":"Read-out Forming Current (μA)","titlePadding":6,"labelPadding":3}},
    "y":{"field":"y","type":"quantitative","scale":{"domain":[0,100],"nice":false,"zero":false},"axis":{"values":[0,10,20,30,40,50,60,70,80,90,100],"labels":false,"tickSize":{"condition":{"test":"datum.value % 20 == 0","value":6},"value":3},"title":null}},
    "color":{"field":"s","type":"nominal","scale":{"domain":["k","b","g","r","ko","bo","go","ro"],"range":["#000000","#0a14ff","#0a800a","#800000","#777777","#6b6be0","#5fae5f","#b06a6a"]},"legend":{"values":["k","b","g","r"],"title":"Vg (V)","orient":"none","legendX":341,"legendY":77,"labelExpr":"datum.value=='k'?'1.0':datum.value=='b'?'1.2':datum.value=='g'?'1.4':'1.6'","encode":{"symbols":{"update":{"fill":{"scale":"color","field":"value"},"stroke":{"scale":"color","field":"value"},"strokeWidth":{"value":1},"shape":{"value":"M-2.5,0H-0.5M0.5,0H2.5M0.5,0A0.5,0.5,0,1,1,-0.5,0A0.5,0.5,0,1,1,0.5,0Z"},"size":{"value":144}}}}}}}},
  {"data":{"name":"f2"},"mark":{"type":"line","strokeWidth":4},
   "encoding":{"x":{"field":"x","type":"quantitative","scale":{"domain":[-0.5,55],"nice":false,"zero":false},"axis":null},"y":{"field":"y","type":"quantitative","scale":{"domain":[0,100],"nice":false,"zero":false}},"order":{"field":"y","type":"quantitative"},
    "color":{"field":"s","type":"nominal","scale":{"domain":["k","b","g","r","ko","bo","go","ro"],"range":["#000000","#0a14ff","#0a800a","#800000","#777777","#6b6be0","#5fae5f","#b06a6a"]},"legend":{"values":["k","b","g","r"],"title":"Vg (V)","orient":"none","legendX":341,"legendY":77,"labelExpr":"datum.value=='k'?'1.0':datum.value=='b'?'1.2':datum.value=='g'?'1.4':'1.6'","encode":{"symbols":{"update":{"fill":{"scale":"color","field":"value"},"stroke":{"scale":"color","field":"value"},"strokeWidth":{"value":1},"shape":{"value":"M-2.5,0H-0.5M0.5,0H2.5M0.5,0A0.5,0.5,0,1,1,-0.5,0A0.5,0.5,0,1,1,0.5,0Z"},"size":{"value":144}}}}}}}},
  {"data":{"name":"f2"},"mark":{"type":"point","filled":true,"size":26,"opacity":1},
   "encoding":{"x":{"field":"x","type":"quantitative","scale":{"domain":[-0.5,55],"nice":false,"zero":false},"axis":null},"y":{"field":"y","type":"quantitative","scale":{"domain":[0,100],"nice":false,"zero":false}},
    "color":{"field":"s","type":"nominal","scale":{"domain":["k","b","g","r","ko","bo","go","ro"],"range":["#000000","#0a14ff","#0a800a","#800000","#777777","#6b6be0","#5fae5f","#b06a6a"]},"legend":{"values":["k","b","g","r"],"title":"Vg (V)","orient":"none","legendX":341,"legendY":77,"labelExpr":"datum.value=='k'?'1.0':datum.value=='b'?'1.2':datum.value=='g'?'1.4':'1.6'","encode":{"symbols":{"update":{"fill":{"scale":"color","field":"value"},"stroke":{"scale":"color","field":"value"},"strokeWidth":{"value":1},"shape":{"value":"M-2.5,0H-0.5M0.5,0H2.5M0.5,0A0.5,0.5,0,1,1,-0.5,0A0.5,0.5,0,1,1,0.5,0Z"},"size":{"value":144}}}}}}}},
  {"data":{"name":"t2"},"mark":{"type":"rule","strokeDash":[8,5],"strokeWidth":2.5,"color":"#F0A030"},
   "encoding":{"x":{"field":"x","type":"quantitative","scale":{"domain":[-0.5,55],"nice":false,"zero":false},"axis":{"orient":"top","values":[0,5,10,15,20,25,30,35,40,45,50],"labels":false,"title":null,"tickSize":{"condition":{"test":"datum.value % 10 == 0","value":-6},"value":-3}}}}},
  {"data":{"name":"l2"},"mark":{"type":"text","align":"left","baseline":"middle","fontSize":15,"font":"Liberation Sans","color":"#222"},
   "encoding":{"x":{"field":"x","type":"quantitative","scale":{"domain":[-0.5,55],"nice":false,"zero":false},"axis":null},"y":{"field":"y","type":"quantitative","scale":{"domain":[0,100],"nice":false,"zero":false}},"text":{"field":"t"}}}
 ]},
{"width":193,"height":327,"resolve":{"axis":{"x":"independent"}},
 "layer":[
  {"data":{"name":"h3"},"mark":{"type":"point","filled":false,"size":32,"strokeWidth":0.9,"opacity":1},
   "encoding":{
    "x":{"field":"x","type":"quantitative","scale":{"domain":[-0.5,55.88],"nice":false,"zero":false},"axis":{"orient":"bottom","values":[0,5,10,15,20,25,30,35,40,45,50,55],"labelExpr":"datum.value % 10 == 0 && datum.value > 0 ? datum.label : ''","tickSize":{"condition":{"test":"datum.value % 10 == 0","value":6},"value":3},"title":null,"labelPadding":3}},
    "y":{"field":"y","type":"quantitative","scale":{"domain":[0,100],"nice":false,"zero":false},"axis":{"values":[0,10,20,30,40,50,60,70,80,90,100],"labels":false,"tickSize":{"condition":{"test":"datum.value % 20 == 0","value":6},"value":3},"title":null}},
    "color":{"field":"s","type":"nominal","scale":{"domain":["k","b","g","r","ko","bo","go","ro"],"range":["#000000","#0a14ff","#0a800a","#800000","#777777","#6b6be0","#5fae5f","#b06a6a"]},"legend":{"values":["k","b","g","r"],"title":"Vg (V)","orient":"none","legendX":341,"legendY":77,"labelExpr":"datum.value=='k'?'1.0':datum.value=='b'?'1.2':datum.value=='g'?'1.4':'1.6'","encode":{"symbols":{"update":{"fill":{"scale":"color","field":"value"},"stroke":{"scale":"color","field":"value"},"strokeWidth":{"value":1},"shape":{"value":"M-2.5,0H-0.5M0.5,0H2.5M0.5,0A0.5,0.5,0,1,1,-0.5,0A0.5,0.5,0,1,1,0.5,0Z"},"size":{"value":144}}}}}}}},
  {"data":{"name":"f3"},"transform":[{"filter":"datum.s == 'r'"}],"mark":{"type":"line","strokeWidth":4},
   "encoding":{"x":{"field":"x","type":"quantitative","scale":{"domain":[-0.5,55.88],"nice":false,"zero":false},"axis":null},"y":{"field":"y","type":"quantitative","scale":{"domain":[0,100],"nice":false,"zero":false}},"order":{"field":"y","type":"quantitative"},
    "color":{"field":"s","type":"nominal","scale":{"domain":["k","b","g","r","ko","bo","go","ro"],"range":["#000000","#0a14ff","#0a800a","#800000","#777777","#6b6be0","#5fae5f","#b06a6a"]},"legend":{"values":["k","b","g","r"],"title":"Vg (V)","orient":"none","legendX":341,"legendY":77,"labelExpr":"datum.value=='k'?'1.0':datum.value=='b'?'1.2':datum.value=='g'?'1.4':'1.6'","encode":{"symbols":{"update":{"fill":{"scale":"color","field":"value"},"stroke":{"scale":"color","field":"value"},"strokeWidth":{"value":1},"shape":{"value":"M-2.5,0H-0.5M0.5,0H2.5M0.5,0A0.5,0.5,0,1,1,-0.5,0A0.5,0.5,0,1,1,0.5,0Z"},"size":{"value":144}}}}}}}},
  {"data":{"name":"f3"},"mark":{"type":"point","filled":true,"size":26,"opacity":1},
   "encoding":{"x":{"field":"x","type":"quantitative","scale":{"domain":[-0.5,55.88],"nice":false,"zero":false},"axis":null},"y":{"field":"y","type":"quantitative","scale":{"domain":[0,100],"nice":false,"zero":false}},
    "color":{"field":"s","type":"nominal","scale":{"domain":["k","b","g","r","ko","bo","go","ro"],"range":["#000000","#0a14ff","#0a800a","#800000","#777777","#6b6be0","#5fae5f","#b06a6a"]},"legend":{"values":["k","b","g","r"],"title":"Vg (V)","orient":"none","legendX":341,"legendY":77,"labelExpr":"datum.value=='k'?'1.0':datum.value=='b'?'1.2':datum.value=='g'?'1.4':'1.6'","encode":{"symbols":{"update":{"fill":{"scale":"color","field":"value"},"stroke":{"scale":"color","field":"value"},"strokeWidth":{"value":1},"shape":{"value":"M-2.5,0H-0.5M0.5,0H2.5M0.5,0A0.5,0.5,0,1,1,-0.5,0A0.5,0.5,0,1,1,0.5,0Z"},"size":{"value":144}}}}}}}},
  {"data":{"name":"t3"},"mark":{"type":"rule","strokeDash":[8,5],"strokeWidth":2.5,"color":"#F0A030"},
   "encoding":{"x":{"field":"x","type":"quantitative","scale":{"domain":[-0.5,55.88],"nice":false,"zero":false},"axis":{"orient":"top","values":[0,5,10,15,20,25,30,35,40,45,50,55],"labels":false,"title":null,"tickSize":{"condition":{"test":"datum.value % 10 == 0","value":-6},"value":-3}}}}},
  {"data":{"name":"l3"},"mark":{"type":"text","align":"left","baseline":"middle","fontSize":15,"font":"Liberation Sans","color":"#222"},
   "encoding":{"x":{"field":"x","type":"quantitative","scale":{"domain":[-0.5,55.88],"nice":false,"zero":false},"axis":null},"y":{"field":"y","type":"quantitative","scale":{"domain":[0,100],"nice":false,"zero":false}},"text":{"field":"t"}}}
 ]}
]
}
